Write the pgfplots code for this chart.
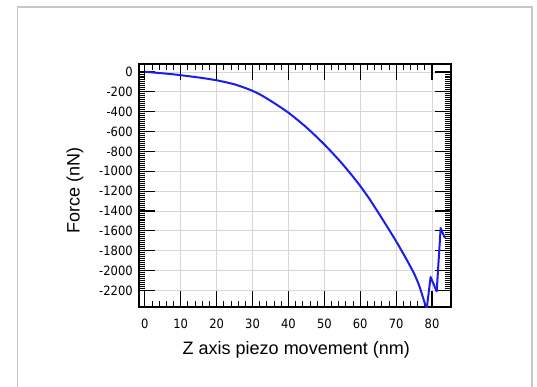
\documentclass[border=0pt]{standalone}
\usepackage{pgfplots}
\pgfplotsset{compat=1.18}
\usepackage{fontspec}
\setmainfont{Liberation Sans}
\newfontfamily\tkfont{DejaVu Sans Condensed}
\newcommand{\tk}[1]{{\tkfont\fontsize{12.8}{14}\selectfont #1}}
\definecolor{curveblue}{RGB}{28,28,235}
\definecolor{framegray}{RGB}{200,200,200}
\definecolor{gridgray}{RGB}{215,215,215}
\begin{document}
\begin{tikzpicture}
\path[use as bounding box] (0,0) rectangle (537pt,387pt);
\draw[framegray, line width=1.3pt] (17.5pt,-2pt) -- (17.5pt,380pt) -- (532pt,380pt) -- (532pt,-2pt);
\begin{axis}[
  at={(138.7pt,79.7pt)}, anchor=south west,
  scale only axis, width=312pt, height=243.3pt,
  xmin=-1.7, xmax=85.2, ymin=-2370, ymax=80,
  xtick={0,10,20,30,40,50,60,70,80},
  xticklabels={\tk{0},\tk{10},\tk{20},\tk{30},\tk{40},\tk{50},\tk{60},\tk{70},\tk{80}},
  ytick={-2200,-2000,-1800,-1600,-1400,-1200,-1000,-800,-600,-400,-200,0},
  yticklabels={\tk{-2200},\tk{-2000},\tk{-1800},\tk{-1600},\tk{-1400},\tk{-1200},\tk{-1000},\tk{-800},\tk{-600},\tk{-400},\tk{-200},\tk{0}},
  minor x tick num=4, minor y tick num=9,
  major tick length=16pt, minor tick length=6pt,
  tick align=inside,
  every major tick/.style={black, line width=1.2pt},
  every minor tick/.style={black, line width=0.8pt},
  axis line style={black, line width=1.6pt},
  grid=major, major grid style={gridgray, line width=0.8pt},
  xticklabel style={yshift=-8pt},
  yticklabel style={xshift=-2.5pt},
  xlabel={Z axis piezo movement (nm)},
  ylabel={Force (nN)},
  label style={font=\fontsize{18}{20}\selectfont},
  xlabel style={at={(axis description cs:0.505,-0.1755)}, anchor=center},
  ylabel style={at={(axis description cs:-0.204,0.482)}, anchor=center, rotate=0},
]
\addplot[curveblue, line width=2pt, line join=round, smooth, tension=0.3] coordinates {
(0,2) (2.5,-6) (5,-14) (7.5,-22) (10,-33) (12.5,-44) (15,-56) (17.5,-69)
(20,-84) (22.5,-103) (25,-125) (27.5,-155) (30,-190) (32.5,-235) (35,-290)
(37.5,-348) (40,-410) (42.5,-482) (45,-558) (47.5,-642) (50,-730) (52.5,-825)
(55,-925) (57.5,-1033) (60,-1148) (62.5,-1275) (65,-1415) (67.5,-1558)
(70,-1705) (72.5,-1862) (75,-2030) (76.5,-2160) (78.5,-2390)
};
\addplot[curveblue, line width=2pt, line join=round] coordinates {
(78.5,-2390) (79.6,-2065) (81.3,-2210) (82.4,-1572) (83.6,-1673)
};
\end{axis}
\end{tikzpicture}
\end{document}
